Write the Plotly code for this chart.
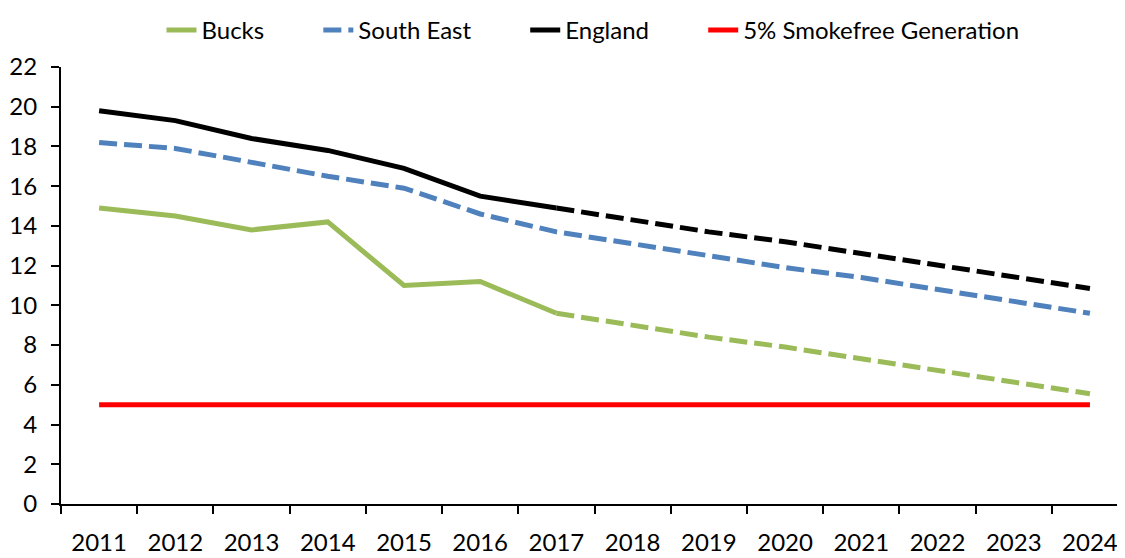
import plotly.graph_objects as go

years = [str(y) for y in range(2011, 2025)]
bucks = [14.9, 14.5, 13.8, 14.2, 11.0, 11.2, 9.6, 9.0, 8.4, 7.9, 7.3, 6.7, 6.1, 5.55]
south_east = [18.2, 17.9, 17.2, 16.5, 15.9, 14.6, 13.7, 13.1, 12.5, 11.9, 11.4, 10.8, 10.2, 9.6]
england = [19.8, 19.3, 18.4, 17.8, 16.9, 15.5, 14.9, 14.3, 13.7, 13.2, 12.6, 12.0, 11.4, 10.85]
target = [5] * 14
split = 6  # index of 2017, last actual year

GREEN = "#9BBB59"
BLUE = "#4F81BD"
BLACK = "#000000"
RED = "#FF0000"
DASH = "18px,7px"
W = 5
PAD = "\u00a0" * 8

fig = go.Figure()
fig.add_trace(go.Scatter(x=years[:split + 1], y=bucks[:split + 1], mode="lines", name="Bucks" + PAD,
                         line=dict(color=GREEN, width=W), legendgroup="b"))
fig.add_trace(go.Scatter(x=years[split:], y=bucks[split:], mode="lines", name="Bucks",
                         line=dict(color=GREEN, width=W, dash=DASH), legendgroup="b", showlegend=False))
fig.add_trace(go.Scatter(x=years, y=south_east, mode="lines", name="South East" + PAD,
                         line=dict(color=BLUE, width=W, dash=DASH)))
fig.add_trace(go.Scatter(x=years[:split + 1], y=england[:split + 1], mode="lines", name="England" + PAD,
                         line=dict(color=BLACK, width=W), legendgroup="e"))
fig.add_trace(go.Scatter(x=years[split:], y=england[split:], mode="lines", name="England",
                         line=dict(color=BLACK, width=W, dash=DASH), legendgroup="e", showlegend=False))
fig.add_trace(go.Scatter(x=years, y=target, mode="lines", name="5% Smokefree Generation",
                         line=dict(color=RED, width=W)))

font = dict(family="Lato, 'Open Sans', sans-serif", size=24, color="#000000")

fig.update_layout(
    width=1117, height=550,
    margin=dict(l=53, r=0, t=59, b=54),
    paper_bgcolor="white", plot_bgcolor="white",
    font=font,
    showlegend=True,
    legend=dict(orientation="h", x=0.50, xanchor="center", y=1 + 59 / 437, yanchor="top",
                font=dict(size=24), traceorder="normal"),
)
fig.update_xaxes(
    type="category", range=[-0.5, 13.46], tickson="boundaries", automargin=False,
    showline=True, linecolor="#000000", linewidth=2,
    ticks="outside", ticklen=8, tickwidth=2, tickcolor="#000000",
    showgrid=False, zeroline=False, ticklabelstandoff=16,
)
fig.update_yaxes(
    range=[0, 22], tickvals=list(range(0, 23, 2)), automargin=False,
    showline=True, linecolor="#000000", linewidth=2,
    ticks="outside", ticklen=8, tickwidth=2, tickcolor="#000000",
    showgrid=False, zeroline=False, ticklabelstandoff=9,
)

fig.write_html("out.html")
